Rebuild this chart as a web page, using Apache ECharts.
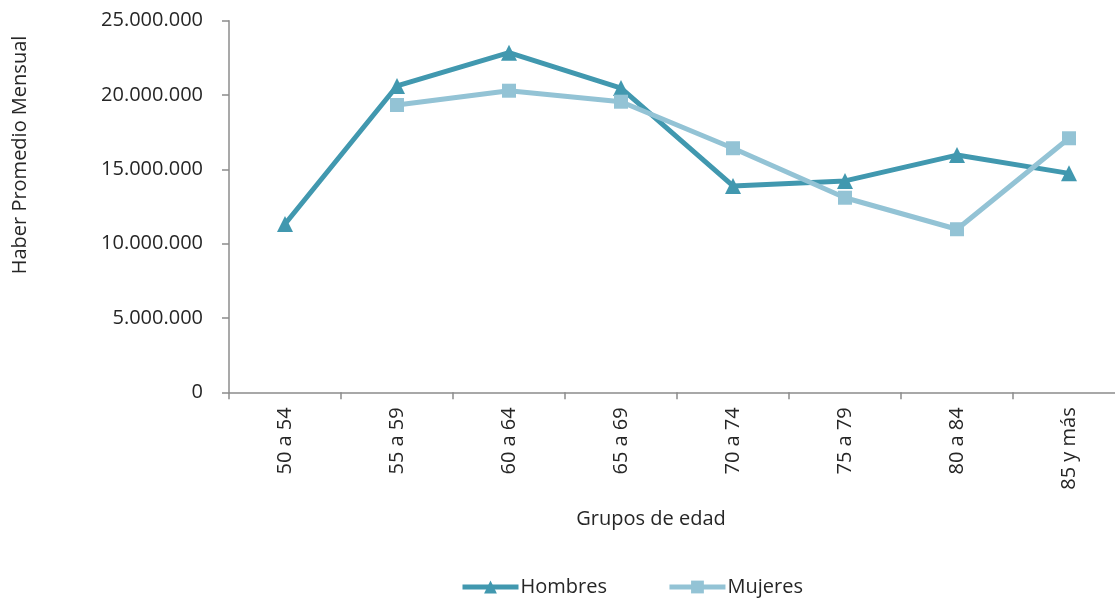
<!DOCTYPE html>
<html>
<head>
<meta charset="utf-8">
<script src="https://cdn.jsdelivr.net/npm/echarts@6/dist/echarts.min.js"></script>
<style>html,body{margin:0;padding:0;background:#fff}#c{width:1115px;height:601px}</style>
</head>
<body>
<div id="c"></div>
<script>
const categories = ['50 a 54','55 a 59','60 a 64','65 a 69','70 a 74','75 a 79','80 a 84','85 y más'];
const hombres = [11320000, 20610000, 22850000, 20470000, 13880000, 14220000, 15960000, 14730000];
const mujeres = [null, 19330000, 20290000, 19550000, 16420000, 13090000, 10970000, 17090000];
const yTicks = [0, 5000000, 10000000, 15000000, 20000000, 25000000];

const FONT = '"Open Sans", "Noto Sans", sans-serif';
const FS = 20;
const TXT = '#262626';
const AXIS = '#8c8c8c';
function fmt(v){ return String(Math.round(v)).replace(/\B(?=(\d{3})+(?!\d))/g, '.'); }

const chart = echarts.init(document.getElementById('c'));
chart.setOption({
  animation: false,
  backgroundColor: '#fff',
  grid: { left: 229, top: 20.7, width: 896, height: 371.6, containLabel: false, outerBoundsMode: 'none' },
  xAxis: {
    type: 'category',
    data: categories,
    boundaryGap: true,
    axisLine: { lineStyle: { color: AXIS, width: 1.5 } },
    axisTick: { show: true, length: 7, lineStyle: { color: AXIS, width: 1.5 } },
    axisLabel: { rotate: 90, margin: 15, color: TXT, fontFamily: FONT, fontSize: FS },
    splitLine: { show: false }
  },
  yAxis: {
    type: 'value',
    min: yTicks[0], max: yTicks[yTicks.length-1], interval: yTicks[1]-yTicks[0],
    axisLine: { show: true, lineStyle: { color: AXIS, width: 1.5 } },
    axisTick: { show: true, length: 7, lineStyle: { color: AXIS, width: 1.5 } },
    axisLabel: { margin: 26, color: TXT, fontFamily: FONT, fontSize: FS, formatter: fmt },
    splitLine: { show: false }
  },
  legend: {
    top: 577, left: 460, padding: 0,
    itemWidth: 56, itemHeight: 16, itemGap: 60,
    lineStyle: { width: 5 },
    textStyle: { color: TXT, fontFamily: FONT, fontSize: FS, padding: [0,0,0,-3] },
    data: ['Hombres','Mujeres']
  },
  graphic: [
    { type: 'text', x: 20, y: 155, rotation: Math.PI/2,
      style: { text: 'Haber Promedio Mensual', fill: TXT, font: FS + 'px ' + FONT, align: 'center', verticalAlign: 'middle' } },
    { type: 'text', x: 651, y: 519,
      style: { text: 'Grupos de edad', fill: TXT, font: FS + 'px ' + FONT, align: 'center', verticalAlign: 'middle' } }
  ],
  series: [
    { name: 'Hombres', type: 'line', data: hombres,
      symbol: 'triangle', symbolSize: 16, connectNulls: false,
      lineStyle: { color: '#4198af', width: 5 }, itemStyle: { color: '#4198af' } },
    { name: 'Mujeres', type: 'line', data: mujeres,
      symbol: 'rect', symbolSize: 14, connectNulls: false,
      lineStyle: { color: '#93c3d5', width: 5 }, itemStyle: { color: '#93c3d5' } }
  ]
});
</script>
</body>
</html>
